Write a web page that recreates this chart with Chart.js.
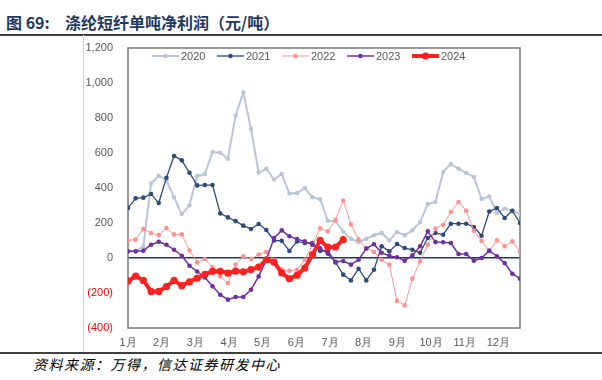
<!DOCTYPE html>
<html><head><meta charset="utf-8">
<script src="https://cdn.jsdelivr.net/npm/chart.js@4/dist/chart.umd.min.js"></script>
<style>
html,body{margin:0;padding:0;background:#fff;}
#wrap{position:relative;width:602px;height:380px;overflow:hidden;}
#c{position:absolute;left:0;top:0;}
.t{position:absolute;top:11px;font-family:"Noto Sans CJK SC",sans-serif;font-weight:bold;color:#1f3864;font-size:16px;line-height:22px;white-space:pre;}
.src{position:absolute;left:33px;top:354px;font-family:"Noto Sans CJK SC",sans-serif;font-style:italic;font-size:14px;letter-spacing:1.5px;color:#000;line-height:20px;white-space:pre;}
.hl{position:absolute;left:0;width:602px;height:1.5px;background:#404040;}
.vl{position:absolute;left:83px;top:35px;width:1px;height:317px;background:#cfcfcf;}
</style></head>
<body><div id="wrap">
<div class="t" style="left:6px">图 69:</div>
<div class="t" style="left:65px">涤纶短纤单吨净利润（元/吨）</div>
<div class="hl" style="top:34px"></div>
<div class="vl"></div>
<div class="hl" style="top:352px"></div>
<div class="src">资料来源：万得，信达证券研发中心</div>
<canvas id="c" width="602" height="380"></canvas>
</div>
<script>
const monthLabels = ['1月','2月','3月','4月','5月','6月','7月','8月','9月','10月','11月','12月'];
const seriesNames = ['2020','2021','2022','2023','2024'];
const y2020 = [38, 40, 67, 426, 470, 443, 346, 251, 301, 469, 480, 606, 602, 567, 813, 946, 738, 488, 510, 448, 480, 368, 371, 400, 347, 336, 213, 210, 152, 110, 91, 110, 130, 143, 101, 149, 130, 158, 204, 309, 320, 491, 537, 510, 486, 463, 337, 352, 257, 282, 270, 251];
const y2021 = [286, 341, 345, 366, 314, 459, 583, 558, 487, 415, 417, 417, 255, 232, 211, 185, 166, 194, 160, 100, 98, 40, 95, 86, 86, 40, 42, -25, -95, -128, -61, -128, -67, 67, 38, 80, 57, 47, 30, 114, 143, 133, 196, 196, 196, 177, 127, 266, 286, 229, 270, 200];
const y2022 = [101, 105, 166, 143, 131, 171, 135, 135, 43, -25, -6, -51, -105, -143, -37, 9, -6, 20, 35, -10, -65, -73, -67, -10, 75, 170, 152, 219, 329, 192, 105, 55, 35, -10, -38, -244, -270, -118, -19, 76, 168, 190, 263, 320, 270, 156, 99, 38, 101, 67, 95, 38];
const y2023 = [38, 38, 42, 76, 93, 76, 47, 13, -44, -77, -111, -162, -210, -238, -223, -223, -181, -105, -10, 114, 158, 124, 108, 95, 76, 55, 25, -22, -17, -38, -10, 54, 79, 30, 12, 4, -15, 15, 67, 152, 91, 90, 86, 23, 23, -15, 0, 42, 10, -29, -90, -118];
const y2024 = [-132, -103, -128, -191, -191, -164, -128, -158, -136, -115, -93, -76, -76, -86, -75, -79, -66, -52, -10, -24, -85, -119, -98, -57, 19, 101, 62, 63, 105];
const yTicks = [-400, -200, 0, 200, 400, 600, 800, 1000, 1200];

const WEEKS_PER_MONTH = 4.38;
const toXY = arr => arr.map((v, i) => ({x: i, y: v}));
const styles = [
  {c:'#b9c5d8', w:2, r:2.2},
  {c:'#2f4b7c', w:1.3, r:2.3},
  {c:'#ff9191', w:1, r:2.3},
  {c:'#7030a0', w:1.5, r:2.3},
  {c:'#ff2020', w:4, r:3.6}
];
const all = [y2020, y2021, y2022, y2023, y2024];
const datasets = all.map((arr, k) => ({
  label: seriesNames[k], data: toXY(arr),
  borderColor: styles[k].c, backgroundColor: styles[k].c,
  borderWidth: styles[k].w, pointRadius: styles[k].r, pointBorderWidth: 0,
  pointBackgroundColor: styles[k].c, tension: 0, order: 5 - k
}));

const fmt = n => n.toLocaleString('en-US');

const framePlugin = {
  id: 'frame',
  beforeDatasetsDraw(chart) {
    const {ctx, chartArea: a} = chart;
    ctx.save();
    ctx.strokeStyle = '#808080';
    ctx.lineWidth = 1.6;
    ctx.strokeRect(a.left, a.top, a.right - a.left, a.bottom - a.top);
    ctx.restore();
  },
  afterDraw(chart) {
    const {ctx} = chart;
    ctx.save();
    ctx.font = '11px "Liberation Sans"';
    ctx.textBaseline = 'middle';
    const y = 56;
    seriesNames.forEach((name, k) => {
      const x0 = 152 + k * 65;
      const s = styles[k];
      ctx.strokeStyle = s.c; ctx.lineWidth = s.w;
      ctx.beginPath(); ctx.moveTo(x0, y); ctx.lineTo(x0 + 27, y); ctx.stroke();
      ctx.fillStyle = s.c;
      ctx.beginPath(); ctx.arc(x0 + 13.5, y, s.r, 0, Math.PI * 2); ctx.fill();
      ctx.fillStyle = '#595959';
      ctx.fillText(name, x0 + 29, y + 0.5);
    });
    ctx.restore();
  }
};

new Chart(document.getElementById('c'), {
  type: 'line',
  data: {datasets},
  options: {
    responsive: false, animation: false, devicePixelRatio: 1,
    layout: {padding: {left: 0, right: 82, top: 48, bottom: 30}},
    plugins: {legend: {display: false}, tooltip: {enabled: false}},
    scales: {
      x: {
        type: 'linear', min: 0, max: 51,
        grid: {display: false, drawTicks: false}, border: {display: false},
        afterBuildTicks: s => { s.ticks = monthLabels.map((m, i) => ({value: i * WEEKS_PER_MONTH})); },
        afterFit: s => { s.height = 22; },
        ticks: {autoSkip: false, maxRotation: 0, padding: 8, color: '#595959',
          font: {family: 'Liberation Sans', size: 11},
          callback: (v, i) => monthLabels[i]}
      },
      y: {
        min: -400, max: 1200,
        afterFit: s => { s.width = 128; },
        afterBuildTicks: s => { s.ticks = yTicks.map(v => ({value: v})); },
        border: {display: false},
        grid: {drawTicks: false,
          color: c => (c.tick && c.tick.value === 0) ? '#1f3864' : 'rgba(0,0,0,0)',
          lineWidth: c => (c.tick && c.tick.value === 0) ? 1.5 : 0},
        ticks: {padding: 15, font: {family: 'Liberation Sans', size: 11},
          color: c => c.tick.value < 0 ? '#ff0000' : '#595959',
          callback: v => v < 0 ? '(' + fmt(-v) + ')' : fmt(v)}
      }
    }
  },
  plugins: [framePlugin]
});
</script>
</body></html>
